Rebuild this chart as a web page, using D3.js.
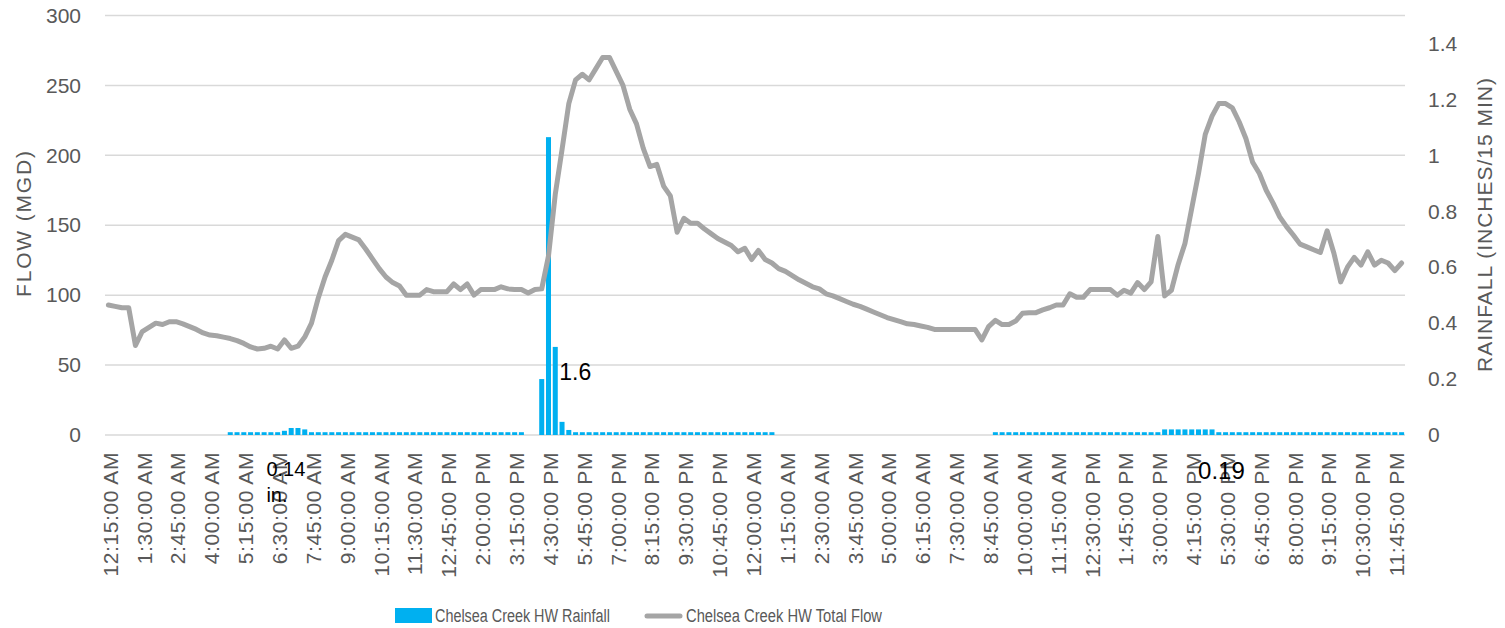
<!DOCTYPE html>
<html><head><meta charset="utf-8">
<script src="https://cdn.jsdelivr.net/npm/d3@7"></script>
<style>body{margin:0;background:#fff}svg{display:block}text{font-family:"Liberation Sans",Arial,sans-serif}</style>
</head><body><svg id="c" width="1505" height="628"></svg>
<script>
// ---- DATA ----
const tickLabels = ["12:15:00 AM","1:30:00 AM","2:45:00 AM","4:00:00 AM","5:15:00 AM","6:30:00 AM","7:45:00 AM","9:00:00 AM","10:15:00 AM","11:30:00 AM","12:45:00 PM","2:00:00 PM","3:15:00 PM","4:30:00 PM","5:45:00 PM","7:00:00 PM","8:15:00 PM","9:30:00 PM","10:45:00 PM","12:00:00 AM","1:15:00 AM","2:30:00 AM","3:45:00 AM","5:00:00 AM","6:15:00 AM","7:30:00 AM","8:45:00 AM","10:00:00 AM","11:15:00 AM","12:30:00 PM","1:45:00 PM","3:00:00 PM","4:15:00 PM","5:30:00 PM","6:45:00 PM","8:00:00 PM","9:15:00 PM","10:30:00 PM","11:45:00 PM"];
const tickEvery = 5;
const flow = [
 93, 92, 91, 91, 64, 74, 77, 80, 79, 81,
 81, 79.5, 77.5, 75.5, 73, 71.5, 71, 70, 69, 67.5,
 65.5, 63, 61.5, 62, 63.5, 61.5, 68, 62, 63.5, 70,
 80, 98, 113, 125, 139, 143.5, 141.5, 139.5, 133, 126,
 119, 113, 109, 106.5, 100, 100, 100, 104, 102.5, 102.5,
 102.5, 108, 104, 108, 100, 104, 104, 104, 106, 104.5,
 104, 104, 101.5, 104, 104.5, 128, 172, 204, 237, 254,
 258, 254, 262, 270, 270, 260, 250, 233, 222.5, 205,
 192, 193.5, 178, 171, 145, 155, 151.5, 151.5, 147.5, 144,
 140.5, 138, 135.5, 131, 133.5, 125.5, 132, 125.5, 123, 119,
 117, 114, 111, 108.5, 106, 104.5, 101, 99.5, 97.5, 95.5,
 93.5, 92, 90, 88, 86, 84, 82.5, 81, 79.5, 79,
 78, 77, 75.5, 75.5, 75.5, 75.5, 75.5, 75.5, 75.5, 68,
 77.5, 82, 79, 79, 81.5, 87, 87.5, 87.5, 89.5, 91,
 93, 93, 101, 98.5, 98.5, 104, 104, 104, 104, 100,
 103.5, 101.5, 109, 104, 109.5, 142, 99.5, 103.5, 122, 137,
 162, 187, 215, 228, 237, 237, 234, 224, 212, 195,
 187, 175, 166, 156, 149, 143, 136.5, 134.5, 132.5, 130.5,
 146, 130, 109.5, 120, 127, 121.5, 131, 121.5, 125, 123,
 117.5, 123
];
const rainfall = [
 0,0,0,0,0,0,0,0,0,0, 0,0,0,0,0,0,0,0,
 0.01,0.01,0.01,0.01,0.01,0.01,0.01,0.01,0.015,
 0.025,0.025,0.02,
 0.01,0.01,0.01,0.01,0.01,0.01,0.01,0.01,0.01,0.01,0.01,0.01,0.01,0.01,0.01,0.01,
 0.01,0.01,0.01,0.01,0.01,0.01,0.01,0.01,0.01,0.01,0.01,0.01,0.01,0.01,0.01,0.01,
 0,0,
 0.2,1.065,0.315,0.047,0.018,
 0.01,0.01,0.01,0.01,0.01,0.01,0.01,0.01,0.01,0.01,0.01,0.01,0.01,0.01,0.01,
 0.01,0.01,0.01,0.01,0.01,0.01,0.01,0.01,0.01,0.01,0.01,0.01,0.01,0.01,0.01,
 0,0,0,0,0,0,0,0,0,0,0,0,0,0,0,0, 0,0,0,0,0,0,0,0,0,0,0,0,0,0,0,0,
 0.01,0.01,0.01,0.01,0.01,0.01,0.01,0.01,0.01,0.01,0.01,0.01,0.01,
 0.01,0.01,0.01,0.01,0.01,0.01,0.01,0.01,0.01,0.01,0.01,0.01,
 0.02,0.02,0.02,0.02,0.02,0.02,0.02,0.02,
 0.01,0.01,0.01,0.01,0.01,0.01,0.01,0.01,0.01,0.01,0.01,0.01,0.01,0.01,
 0.01,0.01,0.01,0.01,0.01,0.01,0.01,0.01,0.01,0.01,0.01,0.01,0.01,0.01
];
const leftTicks = [0,50,100,150,200,250,300];
const rightTicks = [0,0.2,0.4,0.6,0.8,1,1.2,1.4];
const annotations = [
  {i:26, lines:["0.14","in."], size:20},
  {i:66, lines:["1.6"], size:23},
  {i:163, lines:["0.19"], size:24}
];
const seriesNames = ["Chelsea Creek HW Rainfall","Chelsea Creek HW Total Flow"];
const axisTitles = ["FLOW (MGD)","RAINFALL (INCHES/15 MIN)"];
// categories: 15-minute time steps starting 12:15 AM
const categories = flow.map((_, i) => {
  const m = (15 + 15*i) % 1440, h = Math.floor(m/60), mm = m % 60;
  const h12 = h % 12 === 0 ? 12 : h % 12;
  return h12 + ":" + String(mm).padStart(2,"0") + ":00 " + (h < 12 ? "AM" : "PM");
});

// ---- CHART ----
const svg = d3.select("#c");
const P = {left:105, right:1405, top:15.5, bottom:435};
const grey = "#595959";
const x = d3.scaleBand().domain(d3.range(categories.length)).range([P.left,P.right]).paddingInner(0.26).paddingOuter(0.13);
const cx = i => x(i) + x.bandwidth()/2;
const yL = d3.scaleLinear().domain([0,300]).range([P.bottom,P.top]);
const yR = d3.scaleLinear().domain([0,1.5]).range([P.bottom,P.top]);

// gridlines
svg.append("g").selectAll("line").data(leftTicks).join("line")
  .attr("x1",P.left).attr("x2",P.right).attr("y1",d=>yL(d)).attr("y2",d=>yL(d))
  .attr("stroke","#D9D9D9").attr("stroke-width",1.5);

// left axis
const gl = svg.append("g").attr("transform",`translate(${P.left},0)`)
  .call(d3.axisLeft(yL).tickValues(leftTicks).tickSize(0).tickPadding(24));
gl.select(".domain").remove();
gl.selectAll("text").attr("font-size",21).attr("fill",grey).attr("font-family","Liberation Sans, Arial, sans-serif");

// right axis
const gr = svg.append("g").attr("transform",`translate(${P.right},0)`)
  .call(d3.axisRight(yR).tickValues(rightTicks).tickFormat(d3.format("~g")).tickSize(0).tickPadding(23));
gr.select(".domain").remove();
gr.selectAll("text").attr("font-size",21).attr("fill",grey).attr("font-family","Liberation Sans, Arial, sans-serif");

// x tick labels
const tickIdx = d3.range(0, categories.length, tickEvery);
svg.append("g").selectAll("text").data(tickIdx).join("text")
  .attr("transform", i => `translate(${cx(i)+2},452) rotate(-90)`)
  .attr("text-anchor","end").attr("dy","0.35em")
  .attr("font-size",21).attr("fill",grey).attr("letter-spacing",0.6)
  .text((i,k) => tickLabels[k]);

// bars
svg.append("g").selectAll("rect").data(rainfall.map((v,i)=>({v,i})).filter(d=>d.v>0)).join("rect")
  .attr("x",d=>x(d.i)).attr("width",x.bandwidth())
  .attr("y",d=>yR(d.v)).attr("height",d=>P.bottom-yR(d.v))
  .attr("fill","#00B0F0");

// flow line
svg.append("path").datum(flow)
  .attr("d", d3.line().x((d,i)=>cx(i)).y(d=>yL(d)))
  .attr("fill","none").attr("stroke","#A5A5A5").attr("stroke-width",5)
  .attr("stroke-linejoin","round").attr("stroke-linecap","round");

// annotations
annotations.forEach(a => {
  if (a.i === 26) {
    a.lines.forEach((s,k)=> svg.append("text").attr("x",cx(a.i)-18).attr("y",476+26*k)
      .attr("font-size",a.size).attr("fill","#000").text(s));
  } else if (a.i === 66) {
    svg.append("text").attr("font-size",a.size).attr("fill","#000")
      .attr("x",cx(a.i)+4).attr("y",380).text(a.lines[0]);
  } else {
    svg.append("text").attr("font-size",a.size).attr("fill","#000")
      .attr("x",cx(a.i)-14).attr("y",479).text(a.lines[0]);
  }
});

// axis titles
svg.append("text").attr("transform","translate(24,224) rotate(-90)")
  .attr("text-anchor","middle").attr("dy","0.35em").attr("font-size",21).attr("fill",grey)
  .attr("textLength",146).attr("lengthAdjust","spacing").text(axisTitles[0]);
svg.append("text").attr("transform","translate(1485,225) rotate(-90)")
  .attr("text-anchor","middle").attr("dy","0.35em").attr("font-size",21).attr("fill",grey)
  .attr("textLength",294).attr("lengthAdjust","spacing").text(axisTitles[1]);

// legend
const lg = svg.append("g");
lg.append("rect").attr("x",395).attr("y",608).attr("width",37).attr("height",15).attr("fill","#00B0F0");
lg.append("text").attr("x",435).attr("y",622).attr("font-size",18).attr("fill",grey)
  .attr("textLength",175).attr("lengthAdjust","spacingAndGlyphs").text(seriesNames[0]);
lg.append("line").attr("x1",647).attr("x2",680).attr("y1",616).attr("y2",616)
  .attr("stroke","#A5A5A5").attr("stroke-width",5).attr("stroke-linecap","round");
lg.append("text").attr("x",686).attr("y",622).attr("font-size",18).attr("fill",grey)
  .attr("textLength",196).attr("lengthAdjust","spacingAndGlyphs").text(seriesNames[1]);
</script></body></html>
